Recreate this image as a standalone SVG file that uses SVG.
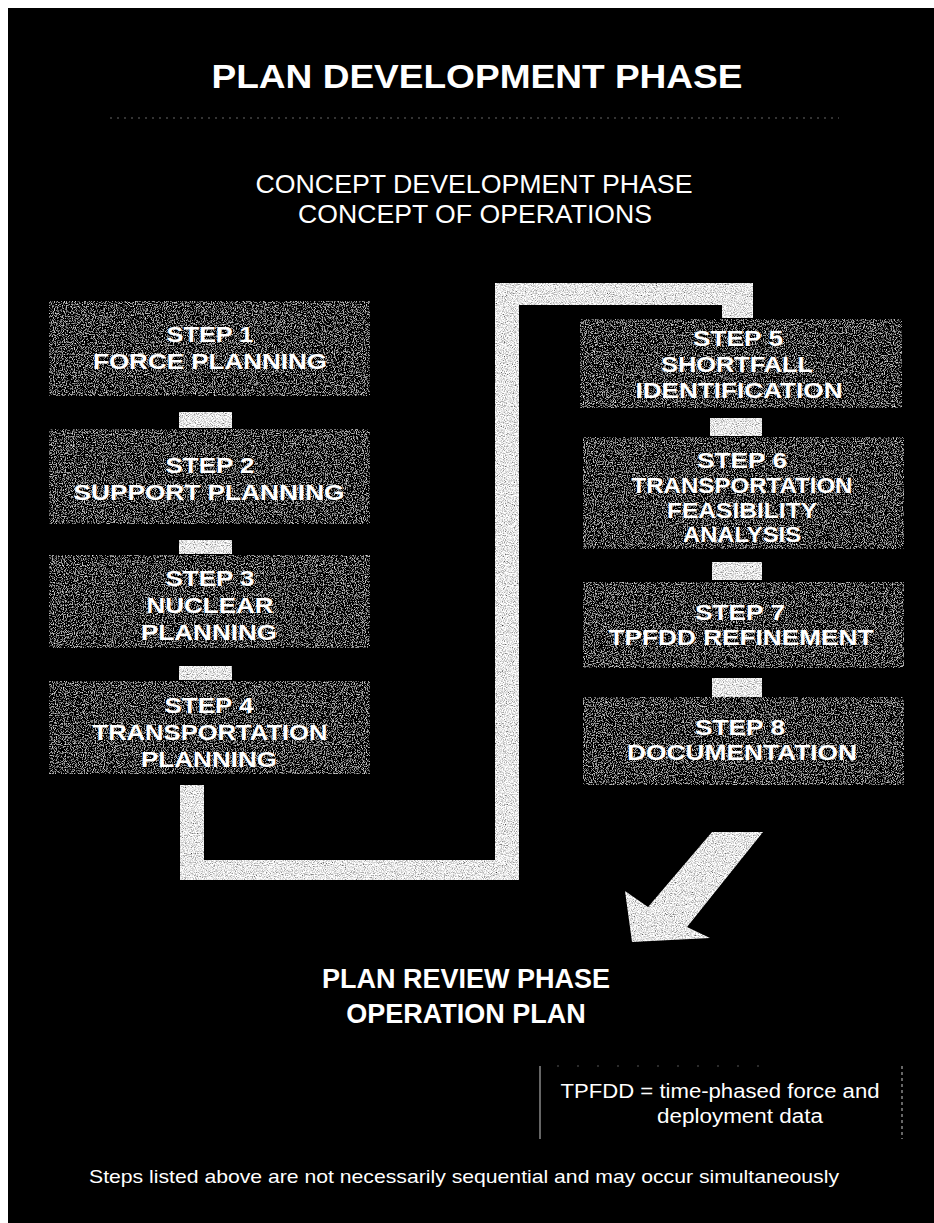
<svg xmlns="http://www.w3.org/2000/svg" width="934" height="1223" viewBox="0 0 934 1223">
<defs>
<filter id="grainDark" x="0" y="0" width="100%" height="100%" filterUnits="objectBoundingBox">
<feTurbulence type="fractalNoise" baseFrequency="0.9" numOctaves="2" seed="4" result="t"/>
<feColorMatrix in="t" type="matrix" values="2.4 0 0 0 -1.2  2.4 0 0 0 -1.2  2.4 0 0 0 -1.2  0 0 0 0 1" result="g"/>
<feComposite in="g" in2="SourceGraphic" operator="in"/>
</filter>
<filter id="grainLight" x="0" y="0" width="100%" height="100%" filterUnits="objectBoundingBox">
<feTurbulence type="fractalNoise" baseFrequency="0.9" numOctaves="2" seed="7" result="t"/>
<feColorMatrix in="t" type="matrix" values="2 0 0 0 -0.2  2 0 0 0 -0.2  2 0 0 0 -0.2  0 0 0 0 1" result="g"/>
<feComposite in="g" in2="SourceGraphic" operator="in"/>
</filter>
</defs>
<style>
.box{fill:#555;filter:url(#grainDark)}
.lite{fill:#bbb;filter:url(#grainLight)}
.bs{font-family:"Liberation Sans",Arial,sans-serif;font-weight:bold;font-size:22px;fill:#fff;text-anchor:middle}
.hd{font-family:"Liberation Sans",Arial,sans-serif;fill:#fff;text-anchor:middle}
</style>
<rect x="0" y="0" width="934" height="1223" fill="#fff"/>
<rect x="8" y="8" width="926" height="1215" fill="#000"/>

<g id="title">
<text class="hd" x="477" y="88" font-size="34" font-weight="bold" textLength="531" lengthAdjust="spacingAndGlyphs">PLAN DEVELOPMENT PHASE</text>
<line x1="110" y1="118" x2="839" y2="118" stroke="#666" stroke-width="1" stroke-dasharray="2 5"/>
</g>
<g id="concept">
<text class="hd" x="474" y="193" font-size="25" textLength="437" lengthAdjust="spacingAndGlyphs">CONCEPT DEVELOPMENT PHASE</text>
<text class="hd" x="475" y="223" font-size="25" textLength="354" lengthAdjust="spacingAndGlyphs">CONCEPT OF OPERATIONS</text>
</g>

<g id="connectors">
<polygon class="lite" points="180,785 180,880 519,880 519,305 722,305 722,318 753,318 753,283 495,283 495,860 204,860 204,785"/>
<rect class="lite" x="179" y="412" width="53" height="16"/>
<rect class="lite" x="179" y="540" width="53" height="14"/>
<rect class="lite" x="179" y="666" width="53" height="14"/>
<rect class="lite" x="710" y="418" width="52" height="18"/>
<rect class="lite" x="712" y="562" width="50" height="18"/>
<rect class="lite" x="712" y="678" width="50" height="19"/>
<polygon class="lite" points="712,832 763,832 687,927 710,938 632,942 625,891 648,907"/>
</g>

<g id="step1">
<rect class="box" x="49" y="301" width="321" height="95"/>
<text class="bs" x="210" y="342" textLength="87" lengthAdjust="spacingAndGlyphs">STEP 1</text>
<text class="bs" x="210" y="369" textLength="234" lengthAdjust="spacingAndGlyphs">FORCE PLANNING</text>
</g>
<g id="step2">
<rect class="box" x="49" y="429" width="321" height="95"/>
<text class="bs" x="210" y="473" textLength="89" lengthAdjust="spacingAndGlyphs">STEP 2</text>
<text class="bs" x="209" y="500" textLength="271" lengthAdjust="spacingAndGlyphs">SUPPORT PLANNING</text>
</g>
<g id="step3">
<rect class="box" x="49" y="555" width="321" height="93"/>
<text class="bs" x="210" y="586" textLength="89" lengthAdjust="spacingAndGlyphs">STEP 3</text>
<text class="bs" x="210" y="613" textLength="127" lengthAdjust="spacingAndGlyphs">NUCLEAR</text>
<text class="bs" x="209" y="640" textLength="136" lengthAdjust="spacingAndGlyphs">PLANNING</text>
</g>
<g id="step4">
<rect class="box" x="49" y="681" width="321" height="93"/>
<text class="bs" x="209" y="713" textLength="89" lengthAdjust="spacingAndGlyphs">STEP 4</text>
<text class="bs" x="210" y="740" textLength="235" lengthAdjust="spacingAndGlyphs">TRANSPORTATION</text>
<text class="bs" x="209" y="767" textLength="136" lengthAdjust="spacingAndGlyphs">PLANNING</text>
</g>
<g id="step5">
<rect class="box" x="580" y="319" width="322" height="89"/>
<text class="bs" x="738" y="346" textLength="90" lengthAdjust="spacingAndGlyphs">STEP 5</text>
<text class="bs" x="737" y="372" textLength="152" lengthAdjust="spacingAndGlyphs">SHORTFALL</text>
<text class="bs" x="739" y="398" textLength="207" lengthAdjust="spacingAndGlyphs">IDENTIFICATION</text>
</g>
<g id="step6">
<rect class="box" x="583" y="437" width="321" height="112"/>
<text class="bs" x="742" y="468" textLength="90" lengthAdjust="spacingAndGlyphs">STEP 6</text>
<text class="bs" x="742" y="493" textLength="221" lengthAdjust="spacingAndGlyphs">TRANSPORTATION</text>
<text class="bs" x="742" y="518" textLength="150" lengthAdjust="spacingAndGlyphs">FEASIBILITY</text>
<text class="bs" x="742" y="542" textLength="118" lengthAdjust="spacingAndGlyphs">ANALYSIS</text>
</g>
<g id="step7">
<rect class="box" x="583" y="582" width="321" height="86"/>
<text class="bs" x="740" y="620" textLength="90" lengthAdjust="spacingAndGlyphs">STEP 7</text>
<text class="bs" x="741" y="645" textLength="265" lengthAdjust="spacingAndGlyphs">TPFDD REFINEMENT</text>
</g>
<g id="step8">
<rect class="box" x="583" y="697" width="321" height="88"/>
<text class="bs" x="740" y="735" textLength="90" lengthAdjust="spacingAndGlyphs">STEP 8</text>
<text class="bs" x="742" y="760" textLength="230" lengthAdjust="spacingAndGlyphs">DOCUMENTATION</text>
</g>

<g id="review">
<text class="hd" x="466" y="988" font-size="27" font-weight="bold">PLAN REVIEW PHASE</text>
<text class="hd" x="466" y="1023" font-size="27" font-weight="bold">OPERATION PLAN</text>
</g>

<g id="legend">
<line x1="540" y1="1066" x2="540" y2="1139" stroke="#888" stroke-width="1.5"/>
<line x1="902" y1="1066" x2="902" y2="1139" stroke="#888" stroke-width="1.5" stroke-dasharray="3 3"/>
<line x1="557" y1="1066" x2="770" y2="1066" stroke="#555" stroke-width="1" stroke-dasharray="2 18"/>
<text class="hd" x="720" y="1098" font-size="20" textLength="319" lengthAdjust="spacingAndGlyphs">TPFDD = time-phased force and</text>
<text class="hd" x="740" y="1123" font-size="20" textLength="166" lengthAdjust="spacingAndGlyphs">deployment data</text>
</g>

<g id="note">
<text class="hd" x="464" y="1183" font-size="19" textLength="750" lengthAdjust="spacingAndGlyphs">Steps listed above are not necessarily sequential and may occur simultaneously</text>
</g>
</svg>
